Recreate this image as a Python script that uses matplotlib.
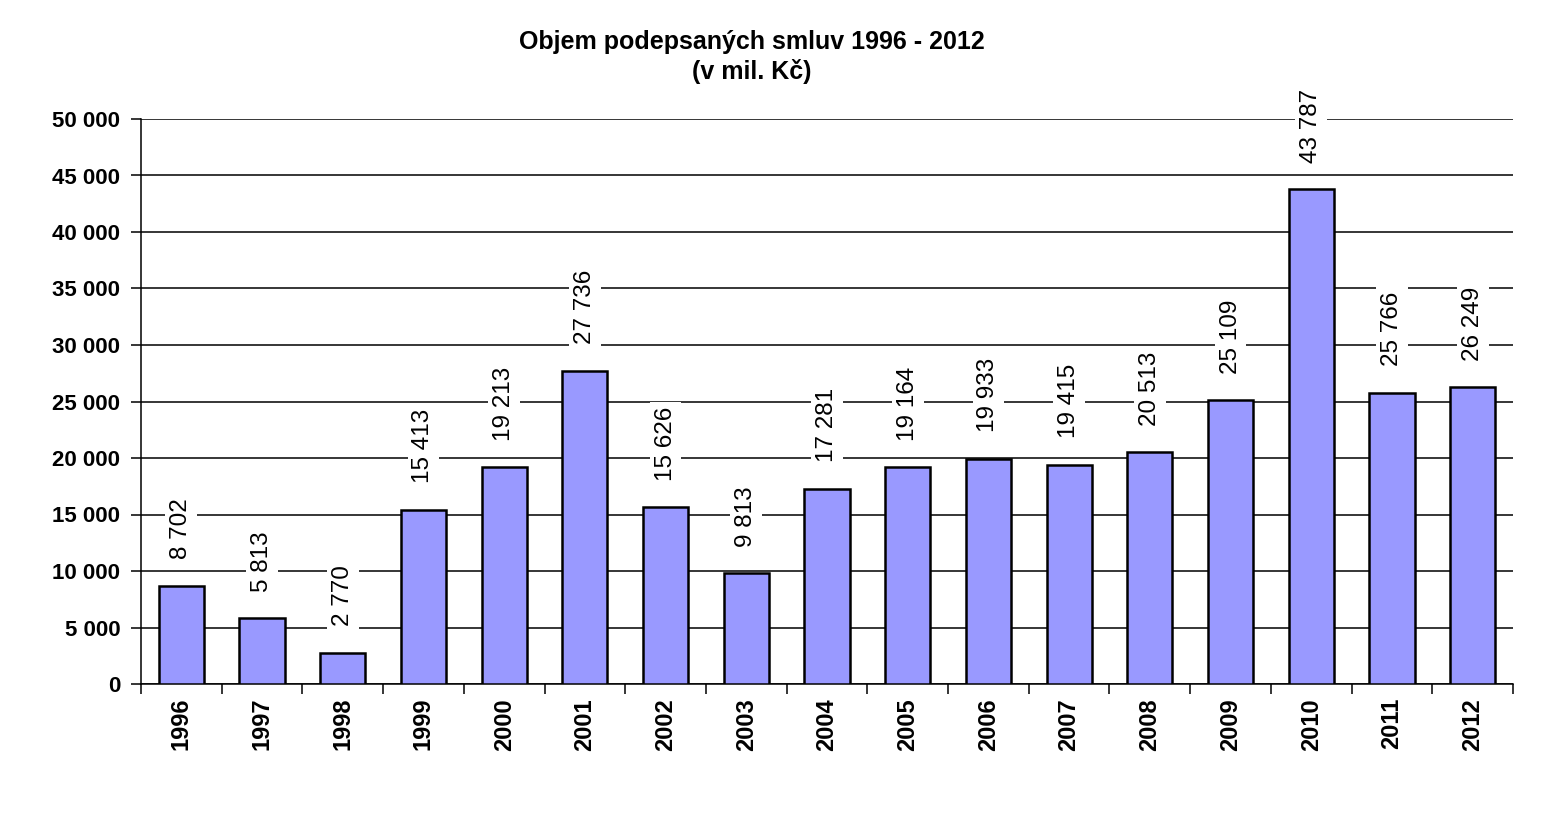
import matplotlib.pyplot as plt
import numpy as np

plt.rcParams['font.family'] = ['Liberation Sans', 'DejaVu Sans']

years = ['1996', '1997', '1998', '1999', '2000', '2001', '2002', '2003', '2004',
         '2005', '2006', '2007', '2008', '2009', '2010', '2011', '2012']
values = [8702, 5813, 2770, 15413, 19213, 27736, 15626, 9813, 17281,
          19164, 19933, 19415, 20513, 25109, 43787, 25766, 26249]
yticks = [0, 5000, 10000, 15000, 20000, 25000, 30000, 35000, 40000, 45000, 50000]


def fmt(v):
    return '{:,}'.format(v).replace(',', ' ')


fig = plt.figure(figsize=(15.46, 8.4), dpi=100)
ax = fig.add_axes([141 / 1546, 1 - 684 / 840, 1372 / 1546, 565 / 840])

x = np.arange(len(years))
ax.bar(x, values, width=0.56, color='#9999ff', edgecolor='black', linewidth=1.8, zorder=3)

for xi, v in zip(x, values):
    ax.annotate(fmt(v), (xi, v), xytext=(0, 19), textcoords='offset points',
                rotation=90, ha='center', va='bottom', fontsize=17.5,
                bbox=dict(boxstyle='square,pad=0.2', fc='white', ec='none'),
                zorder=5, annotation_clip=False)

ax.set_xlim(-0.5, len(years) - 0.5)
ax.set_ylim(0, 50000)
ax.set_yticks(yticks)
ax.set_yticklabels([fmt(t) for t in yticks], fontsize=16, fontweight='bold')
ax.yaxis.grid(True, color='black', linewidth=1.1, zorder=0)
ax.set_axisbelow(True)

ax.set_xticks(x)
ax.set_xticklabels(years, rotation=90, fontsize=17, fontweight='bold')
ax.tick_params(axis='x', length=0, pad=10)
ax.set_xticks(np.arange(-0.5, len(years)), minor=True)
ax.tick_params(axis='x', which='minor', length=7, width=1.1, direction='out')
ax.tick_params(axis='y', length=7, width=1.1, direction='out', pad=8)

for s in ['top', 'right']:
    ax.spines[s].set_visible(False)
for s in ['left', 'bottom']:
    ax.spines[s].set_linewidth(1.1)

fig.text(752 / 1546, 1 - 42 / 840, 'Objem podepsaných smluv 1996 - 2012', ha='center', va='center',
         fontsize=18, fontweight='bold')
fig.text(752 / 1546, 1 - 72 / 840, '(v mil. Kč)', ha='center', va='center',
         fontsize=18, fontweight='bold')

fig.savefig('out.png', dpi=100, facecolor='white')
